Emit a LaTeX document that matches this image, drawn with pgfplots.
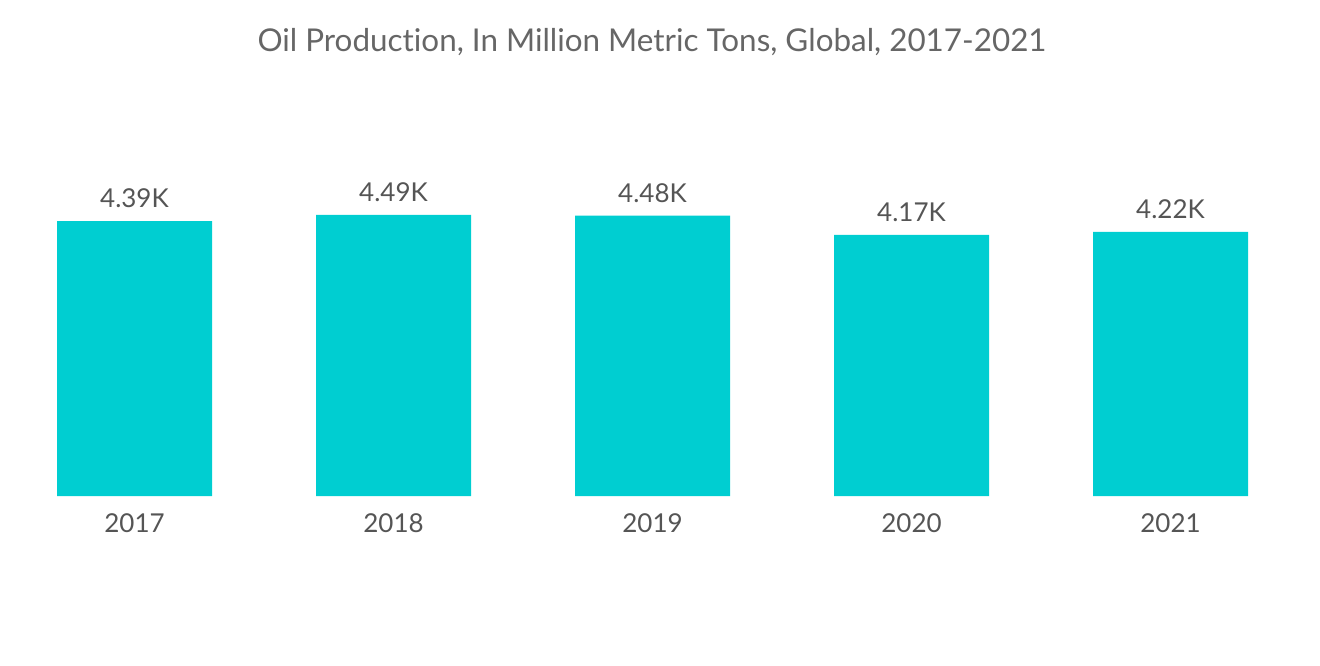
\documentclass[border=0pt]{standalone}
\usepackage{fontspec}
\setmainfont{Lato}[Ligatures={NoCommon}]
\usepackage{pgfplots}
\pgfplotsset{compat=1.18}
\definecolor{barcyan}{HTML}{00CED1}
\definecolor{txtgray}{HTML}{555555}
\definecolor{ttlgray}{HTML}{666666}
\begin{document}
\begin{tikzpicture}
\useasboundingbox (0,0) rectangle (660pt,332.5pt);
\node[font=\fontsize{15.7}{17}\selectfont, text=ttlgray] at (326pt,311.5pt) {Oil Production, In Million Metric Tons, Global, 2017-2021};
\begin{axis}[
  at={(2.5pt,84.5pt)}, anchor=south west,
  scale only axis, width=647.5pt, height=156.5pt,
  xmin=-0.5, xmax=4.5, ymin=0, ymax=5000,
  axis line style={draw=none},
  tick style={draw=none},
  ymajorticks=false,
  xtick={0,1,2,3,4},
  xticklabels={2017,2018,2019,2020,2021},
  xticklabel style={font=\fontsize{13}{15}\selectfont, text=txtgray, yshift=-1pt},
  ybar, bar width=77.5pt,
  point meta=explicit symbolic,
  nodes near coords,
  nodes near coords style={font=\fontsize{13}{15}\selectfont, text=txtgray, anchor=south, yshift=3pt},
]
\addplot[fill=barcyan, draw=none] coordinates {
  (0,4390) [4.39K]
  (1,4490) [4.49K]
  (2,4480) [4.48K]
  (3,4170) [4.17K]
  (4,4220) [4.22K]
};
\end{axis}
\end{tikzpicture}
\end{document}
